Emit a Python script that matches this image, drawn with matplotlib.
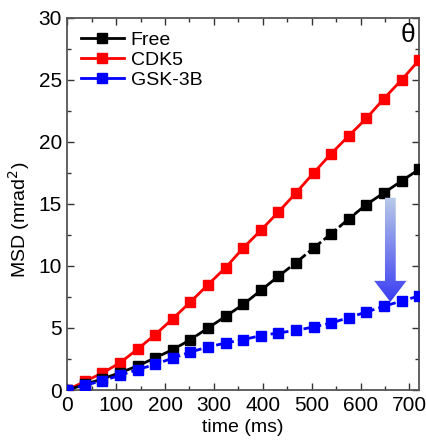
import matplotlib
matplotlib.use("Agg")
import matplotlib.pyplot as plt
import numpy as np
from matplotlib.patches import Polygon
from matplotlib.lines import Line2D
from matplotlib.ticker import MultipleLocator

plt.rcParams['font.family'] = ['Liberation Sans', 'DejaVu Sans']

# time points (ms)
t = [0, 36, 72, 108, 144, 180, 216, 252, 288, 324, 360,
     396, 432, 468, 504, 540, 576, 612, 648, 684, 720]

# MSD values (mrad^2)
free = [0, 0.45, 0.9, 1.4, 1.94, 2.6, 3.26, 4.06, 5.0, 5.94, 6.9,
        8.03, 9.17, 10.27, 11.45, 12.6, 13.8, 14.95, 15.9, 16.85, 17.8]
cdk5 = [0, 0.7, 1.37, 2.2, 3.3, 4.47, 5.76, 7.1, 8.5, 9.87, 11.45,
        12.88, 14.35, 15.9, 17.5, 19.06, 20.5, 21.9, 23.5, 25.0, 26.6]
gsk = [0, 0.38, 0.75, 1.19, 1.64, 2.07, 2.58, 3.06, 3.47, 3.79, 4.06,
       4.39, 4.6, 4.81, 5.08, 5.4, 5.84, 6.29, 6.75, 7.18, 7.58]

labels = ["Free", "CDK5", "GSK-3B"]

fig = plt.figure(figsize=(4.26, 4.47), dpi=100)
ax = fig.add_axes([0.158, 0.1275, 0.826, 0.8325])

ax.plot(t, cdk5, color="red", lw=2.0, marker="s", ms=6.5, zorder=3)
ax.plot(t, free, color="black", lw=2.0, marker="s", ms=6.5, dashes=(6, 1.2), zorder=4)
ax.plot(t, gsk, color="blue", lw=2.0, marker="s", ms=6.5, dashes=(2.5, 1.5), zorder=5)

handles = [Line2D([], [], color=c, lw=2.0, marker="s", ms=7.5) for c in ["black", "red", "blue"]]
ax.legend(handles, labels, loc="upper left", frameon=False, fontsize=14,
          handlelength=2.2, handletextpad=0.35, labelspacing=0.12,
          borderaxespad=0.3, bbox_to_anchor=(0.0, 1.0))

# gradient arrow
ax_x, top, tip = 661, 15.5, 7.1
sw, hw, hh = 11, 33, 1.7
poly = [(ax_x - sw, top), (ax_x + sw, top), (ax_x + sw, tip + hh), (ax_x + hw, tip + hh),
        (ax_x, tip), (ax_x - hw, tip + hh), (ax_x - sw, tip + hh)]
patch = Polygon(poly, closed=True, facecolor="none", edgecolor="none", zorder=6)
ax.add_patch(patch)
grad = np.linspace(0, 1, 256).reshape(-1, 1)
cmap = matplotlib.colors.LinearSegmentedColormap.from_list("g", ["#3a3cf2", "#b9cbe8"])
im = ax.imshow(grad, cmap=cmap, extent=[ax_x - hw, ax_x + hw, tip, top],
               origin="lower", aspect="auto", zorder=6)
im.set_clip_path(patch)

ax.text(0.99, 0.985, "θ", transform=ax.transAxes, ha="right", va="top", fontsize=19)

ax.set_xlim(0, 720)
ax.set_ylim(0, 30)
ax.xaxis.set_major_locator(MultipleLocator(100))
ax.xaxis.set_minor_locator(MultipleLocator(50))
ax.yaxis.set_major_locator(MultipleLocator(5))
ax.yaxis.set_minor_locator(MultipleLocator(2.5))
ax.tick_params(which="both", direction="in", top=True, right=True, labelsize=15, pad=4, color="#333333")
ax.tick_params(which="major", length=5, width=1)
ax.tick_params(which="minor", length=3, width=1)
for s in ax.spines.values():
    s.set_color("#555555")
    s.set_linewidth(1.3)

ax.set_xlabel("time (ms)", fontsize=14, labelpad=3)
ax.set_ylabel("MSD (mrad$^2$)", fontsize=14, labelpad=4)
ax.yaxis.set_label_coords(-0.10, 0.457)

fig.savefig("out.png", dpi=100)
